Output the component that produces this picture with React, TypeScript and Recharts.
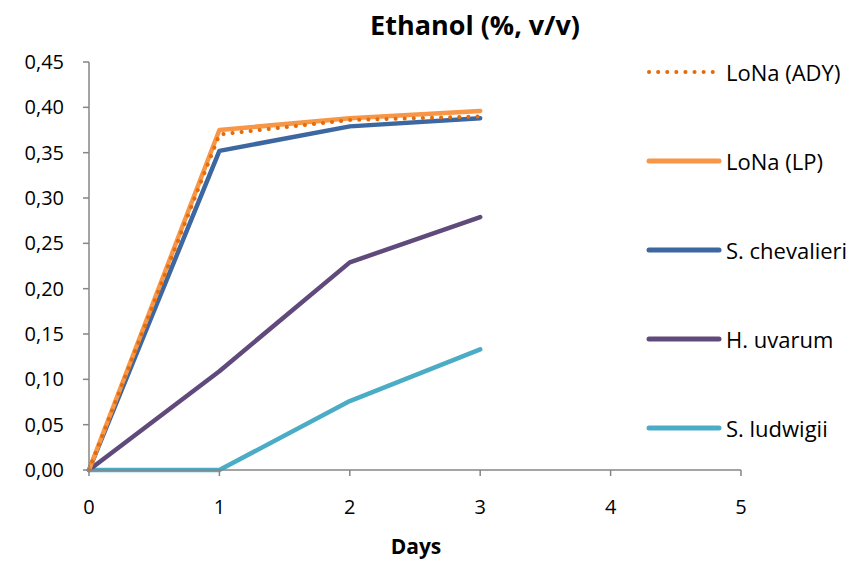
import React from 'react';
import { LineChart, Line, XAxis, YAxis } from 'recharts';

const days = [0, 1, 2, 3];
const lonaAdy = [0.0, 0.37, 0.386, 0.39];
const lonaLp = [0.0, 0.375, 0.388, 0.396];
const sChevalieri = [0.0, 0.352, 0.379, 0.388];
const hUvarum = [0.0, 0.109, 0.229, 0.279];
const sLudwigii = [0.0, 0.0, 0.076, 0.133];
const xTicks = [0, 1, 2, 3, 4, 5];
const yTicks = [0, 0.05, 0.1, 0.15, 0.2, 0.25, 0.3, 0.35, 0.4, 0.45];

const series = [
  { key: 'ady', name: 'LoNa (ADY)', color: '#E46C0A', dotted: true },
  { key: 'lp', name: 'LoNa (LP)', color: '#F79646', dotted: false },
  { key: 'chev', name: 'S. chevalieri', color: '#3D67A0', dotted: false },
  { key: 'uva', name: 'H. uvarum', color: '#604A7B', dotted: false },
  { key: 'lud', name: 'S. ludwigii', color: '#4BACC6', dotted: false },
];

const data = days.map((d, i) => ({
  day: d,
  ady: lonaAdy[i],
  lp: lonaLp[i],
  chev: sChevalieri[i],
  uva: hUvarum[i],
  lud: sLudwigii[i],
}));

const font = '"Open Sans", Lato, sans-serif';
const axisColor = '#868686';

export default function App() {
  // draw order: back lines first, orange lines on top
  const drawOrder = ['lud', 'uva', 'chev', 'lp', 'ady'];
  return (
    <div style={{ position: 'absolute', left: 0, top: 0, width: 859, height: 562, background: '#fff', fontFamily: font }}>
      <div style={{ position: 'absolute', left: 0, width: 950, top: 7, textAlign: 'center', fontSize: 27, fontWeight: 700, color: '#000', lineHeight: '36px' }}>
        Ethanol (%, v/v)
      </div>
      <LineChart width={859} height={562} data={data} margin={{ top: 62, right: 118, left: 0, bottom: 52 }}>
        <XAxis
          dataKey="day"
          type="number"
          domain={[0, 5]}
          ticks={xTicks}
          interval={0}
          stroke={axisColor}
          strokeWidth={1.5}
          tickSize={6}
          height={40}
          tick={{ fill: '#000', fontSize: 20, fontFamily: font }}
          tickMargin={24}
        />
        <YAxis
          type="number"
          domain={[0, 0.45]}
          ticks={yTicks}
          interval={0}
          width={89}
          stroke={axisColor}
          strokeWidth={1.5}
          tickSize={6}
          tickMargin={19}
          tick={{ fill: '#000', fontSize: 20, fontFamily: font }}
          tickFormatter={(v: number) => v.toFixed(2).replace('.', ',')}
        />
        {drawOrder.map((k) => {
          const s = series.find((x) => x.key === k)!;
          return (
            <Line
              key={s.key}
              dataKey={s.key}
              name={s.name}
              type="linear"
              stroke={s.color}
              strokeWidth={s.dotted ? 4 : 4.5}
              strokeDasharray={s.dotted ? '0.1 9' : undefined}
              strokeLinecap="round"
              strokeLinejoin="round"
              dot={false}
              activeDot={false}
              isAnimationActive={false}
            />
          );
        })}
      </LineChart>
      <div style={{ position: 'absolute', left: 0, width: 832, top: 531, textAlign: 'center', fontSize: 21, fontWeight: 700, color: '#000', lineHeight: '30px' }}>
        Days
      </div>
      {series.map((s, i) => (
        <div key={s.key} style={{ position: 'absolute', left: 645, top: 72 + i * 89 - 15, height: 30, display: 'flex', alignItems: 'center' }}>
          <svg width={78} height={10}>
            <line
              x1={4}
              y1={5}
              x2={74}
              y2={5}
              stroke={s.color}
              strokeWidth={s.dotted ? 4 : 5}
              strokeLinecap="round"
              strokeDasharray={s.dotted ? '0.1 9' : undefined}
            />
          </svg>
          <span style={{ fontSize: 22, color: '#000', marginLeft: 3, whiteSpace: 'nowrap' }}>{s.name}</span>
        </div>
      ))}
    </div>
  );
}
